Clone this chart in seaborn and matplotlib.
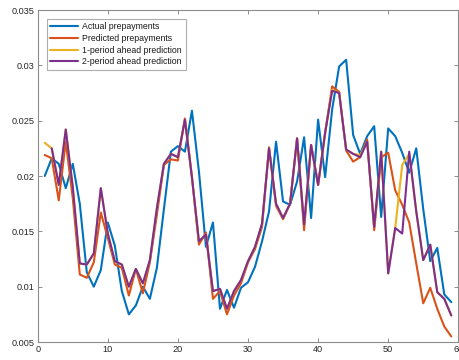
import numpy as np
import pandas as pd
import matplotlib
matplotlib.use("Agg")
import matplotlib.pyplot as plt
import seaborn as sns

# Monthly prepayment rates: actual vs. model predictions
periods = list(range(1, 60))

actual = [0.0200, 0.0216, 0.0211, 0.0189, 0.0211, 0.0175, 0.0113, 0.0100, 0.0115, 0.0158,
          0.0137, 0.0096, 0.0075, 0.0083, 0.0100, 0.0089, 0.0117, 0.0170, 0.0222, 0.0227,
          0.0222, 0.0259, 0.0204, 0.0136, 0.0158, 0.0080, 0.0097, 0.0081, 0.0099, 0.0104,
          0.0118, 0.0141, 0.0168, 0.0231, 0.0177, 0.0174, 0.0195, 0.0235, 0.0162, 0.0251,
          0.0199, 0.0260, 0.0299, 0.0305, 0.0237, 0.0220, 0.0236, 0.0245, 0.0163, 0.0243,
          0.0236, 0.0221, 0.0203, 0.0225, 0.0170, 0.0123, 0.0135, 0.0093, 0.0086]

predicted = [0.0219, 0.0216, 0.0178, 0.0231, 0.0180, 0.0111, 0.0108, 0.0122, 0.0167, 0.0144,
             0.0120, 0.0117, 0.0092, 0.0116, 0.0094, 0.0122, 0.0165, 0.0210, 0.0215, 0.0214,
             0.0252, 0.0199, 0.0138, 0.0149, 0.0089, 0.0096, 0.0075, 0.0092, 0.0103, 0.0122,
             0.0134, 0.0154, 0.0226, 0.0173, 0.0161, 0.0175, 0.0234, 0.0151, 0.0228, 0.0192,
             0.0239, 0.0281, 0.0276, 0.0223, 0.0213, 0.0217, 0.0233, 0.0151, 0.0217, 0.0221,
             0.0187, 0.0174, 0.0158, 0.0121, 0.0085, 0.0099, 0.0080, 0.0064, 0.0055]

ahead_1 = [0.0230, 0.0225, 0.0192, 0.0242, 0.0190, 0.0121, 0.0120, 0.0130, 0.0189, 0.0148,
           0.0123, 0.0120, 0.0100, 0.0116, 0.0103, 0.0124, 0.0171, 0.0211, 0.0220, 0.0217,
           0.0251, 0.0199, 0.0141, 0.0147, 0.0096, 0.0098, 0.0080, 0.0096, 0.0106, 0.0123,
           0.0136, 0.0157, 0.0225, 0.0175, 0.0162, 0.0175, 0.0234, 0.0156, 0.0228, 0.0192,
           0.0239, 0.0278, 0.0275, 0.0224, 0.0220, 0.0219, 0.0231, 0.0154, 0.0222, 0.0112,
           0.0153, 0.0210, 0.0220, 0.0168, 0.0124, 0.0138, 0.0095, 0.0089, 0.0074]

# 2-period-ahead forecasts begin at period 2
periods_2 = periods[1:]
ahead_2 = [0.0225, 0.0192, 0.0242, 0.0190, 0.0121, 0.0120, 0.0130, 0.0189, 0.0148,
           0.0123, 0.0120, 0.0100, 0.0116, 0.0103, 0.0124, 0.0171, 0.0211, 0.0220, 0.0217,
           0.0251, 0.0199, 0.0141, 0.0147, 0.0096, 0.0098, 0.0080, 0.0096, 0.0106, 0.0123,
           0.0136, 0.0157, 0.0225, 0.0175, 0.0162, 0.0175, 0.0234, 0.0156, 0.0228, 0.0192,
           0.0239, 0.0277, 0.0275, 0.0224, 0.0220, 0.0217, 0.0231, 0.0154, 0.0222, 0.0112,
           0.0153, 0.0148, 0.0222, 0.0168, 0.0124, 0.0138, 0.0095, 0.0089, 0.0074]

series_names = ["Actual prepayments", "Predicted prepayments",
                "1-period ahead prediction", "2-period ahead prediction"]
series_colors = ["#0072BD", "#D95319", "#EDB120", "#7E2F8E"]

xticks = [0, 10, 20, 30, 40, 50, 60]
yticks = [0.005, 0.01, 0.015, 0.02, 0.025, 0.03, 0.035]
ytick_labels = ["0.005", "0.01", "0.015", "0.02", "0.025", "0.03", "0.035"]

frames = [
    pd.DataFrame({"period": periods, "rate": actual, "series": series_names[0]}),
    pd.DataFrame({"period": periods, "rate": predicted, "series": series_names[1]}),
    pd.DataFrame({"period": periods, "rate": ahead_1, "series": series_names[2]}),
    pd.DataFrame({"period": periods_2, "rate": ahead_2, "series": series_names[3]}),
]
df = pd.concat(frames, ignore_index=True)

sns.set_style("white")
plt.rcParams["font.family"] = ["Liberation Sans", "DejaVu Sans"]

fig = plt.figure(figsize=(4.6, 3.6), dpi=100)
ax = fig.add_axes([0.082, 0.05, 0.9143, 0.9222])

sns.lineplot(data=df, x="period", y="rate", hue="series", hue_order=series_names,
             palette=series_colors, linewidth=1.5, legend=False, ax=ax,
             estimator=None, sort=False)

ax.set_xlim(0, 60)
ax.set_ylim(0.005, 0.035)
ax.set_xticks(xticks)
ax.set_xticklabels([str(t) for t in xticks])
ax.set_yticks(yticks)
ax.set_yticklabels(ytick_labels)
ax.set_xlabel("")
ax.set_ylabel("")

axis_gray = "#8c8c8c"
for side in ["left", "right", "top", "bottom"]:
    ax.spines[side].set_visible(True)
    ax.spines[side].set_color(axis_gray)
    ax.spines[side].set_linewidth(0.8)

ax.tick_params(axis="both", which="major", direction="in", length=3, width=0.7,
               color=axis_gray, labelsize=6.6, labelcolor="#262626",
               top=True, right=True, bottom=True, left=True, pad=2.5)

handles = ax.get_lines()[:4]
leg = ax.legend(handles, series_names, loc="upper left",
                bbox_to_anchor=(0.022, 0.973), borderaxespad=0,
                fontsize=6.3, handlelength=3.2, handletextpad=0.45,
                labelspacing=0.3, borderpad=0.4, frameon=True, fancybox=False)
leg.get_frame().set_edgecolor("#9a9a9a")
leg.get_frame().set_linewidth(0.8)
for t in leg.get_texts():
    t.set_color("#1a1a1a")

fig.savefig("out.png", dpi=100)
